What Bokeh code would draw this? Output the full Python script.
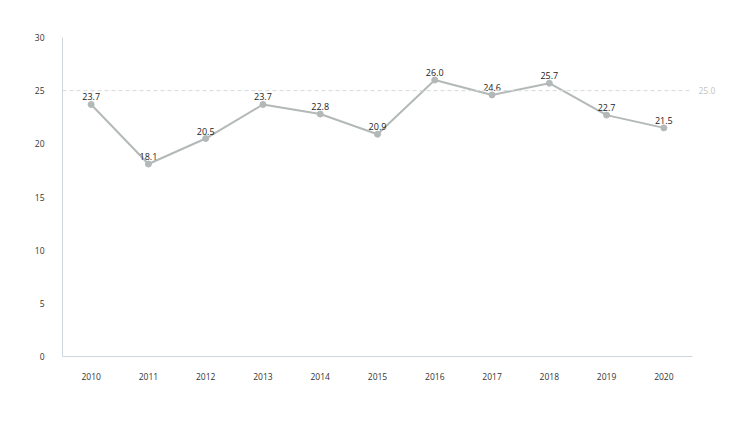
from bokeh.plotting import figure
from bokeh.models import ColumnDataSource, Span, FixedTicker, Range1d, LinearAxis, NumeralTickFormatter
from bokeh.core.properties import value
from bokeh.embed import file_html
from bokeh.resources import INLINE

years = ["2010", "2011", "2012", "2013", "2014", "2015", "2016", "2017", "2018", "2019", "2020"]
values = [23.7, 18.1, 20.5, 23.7, 22.8, 20.9, 26.0, 24.6, 25.7, 22.7, 21.5]
target = 25.0
y_ticks = [0, 5, 10, 15, 20, 25, 30]

FONT = "Open Sans"

src = ColumnDataSource(dict(x=years, y=values, lbl=["%.1f" % v for v in values]))

p = figure(x_range=years, y_range=Range1d(0, 30), width=721, height=426,
           output_backend="svg", toolbar_location=None,
           min_border_left=62, min_border_right=29, min_border_top=37, min_border_bottom=70)
p.outline_line_color = None
p.xgrid.grid_line_color = None
p.ygrid.grid_line_color = None
p.background_fill_color = "white"
p.border_fill_color = "white"

for ax in (p.xaxis, p.yaxis):
    ax.axis_line_color = "#ccd6de"
    ax.axis_line_width = 1
    ax.major_tick_line_color = None
    ax.minor_tick_line_color = None
    ax.major_label_text_font = FONT
    ax.major_label_text_font_size = "8.5px"
    ax.major_label_text_color = "#333333"
p.yaxis.ticker = FixedTicker(ticks=y_ticks)
p.yaxis.major_label_standoff = 12
p.xaxis.major_label_standoff = 10

span = Span(location=target, dimension="width", line_color="#d5d8da", line_width=1, line_dash="4 3")
p.add_layout(span)

target_axis = LinearAxis(ticker=FixedTicker(ticks=[target]),
                         formatter=NumeralTickFormatter(format="0.0"))
target_axis.axis_line_color = None
target_axis.major_tick_line_color = None
target_axis.minor_tick_line_color = None
target_axis.major_label_standoff = 0
target_axis.major_label_text_font = FONT
target_axis.major_label_text_font_size = "8.5px"
target_axis.major_label_text_color = "#c0c4c6"
target_axis.major_label_text_baseline = "bottom"
p.add_layout(target_axis, "right")

p.line("x", "y", source=src, line_color="#b3b8b8", line_width=2)
p.scatter("x", "y", source=src, size=6, fill_color="#b3b8b8", line_color="#b3b8b8")
p.text("x", "y", text="lbl", source=src, text_font=value(FONT), text_font_size="9px",
       text_color="#222222", text_align="center",
       text_baseline="bottom", y_offset=-4)

open("out.html", "w").write(file_html(p, INLINE))
